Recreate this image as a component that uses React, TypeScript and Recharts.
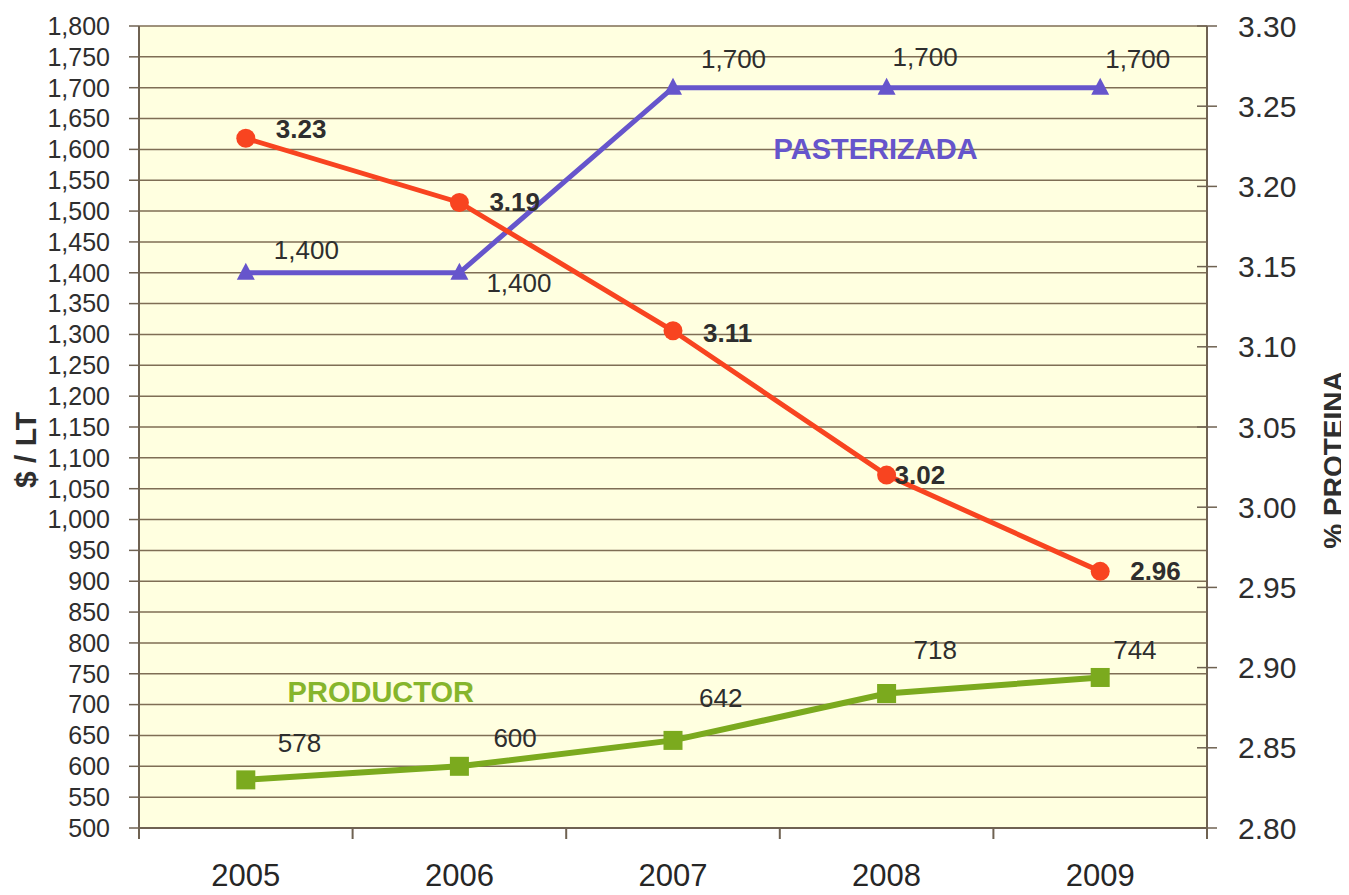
import React from 'react';
import { ComposedChart, Line, XAxis, YAxis, CartesianGrid, LabelList, ReferenceDot, Label } from 'recharts';

const years = ['2005', '2006', '2007', '2008', '2009'];
const pasterizada = [1400, 1400, 1700, 1700, 1700];
const productor = [578, 600, 642, 718, 744];
const proteina = [3.23, 3.19, 3.11, 3.02, 2.96];
const priceTicks = [500, 550, 600, 650, 700, 750, 800, 850, 900, 950, 1000, 1050, 1100, 1150, 1200, 1250, 1300, 1350, 1400, 1450, 1500, 1550, 1600, 1650, 1700, 1750, 1800];
const proteinTicks = [2.8, 2.85, 2.9, 2.95, 3.0, 3.05, 3.1, 3.15, 3.2, 3.25, 3.3];

const data = years.map((year, i) => ({
  year,
  pasterizada: pasterizada[i],
  productor: productor[i],
  proteina: proteina[i],
}));

const FONT = '"Liberation Sans", Arial, Helvetica, sans-serif';
const AXIS = '#6f6252';
const GRID = '#7f6e55';
const PURPLE = '#6655CC';
const RED = '#F84420';
const GREEN = '#7BAA1E';
const TEXT = '#2e2e2e';

// style constants
const CHART_W = 1341;
const LEFT_W = 131;
const RIGHT_W = 142;
const HALF_BAND = (CHART_W - LEFT_W - RIGHT_W) / years.length / 2;

// label offsets (style only)
const purpleDx = [28, 27, 28, 6, 5];
const purpleDy = [-23, 10, -29, -31, -29];
const greenDx = [32, 34, 26, 27, 13];
const greenDy = [-37, -28, -42, -44, -27];
const redDx = [30, 30, 30, 8, 30];
const redDy = [-9, 0, 2, 0, 0];

const makeLabel = (dxs: number[], dys: number[], fmt: (v: number) => string, weight: string) => (props: any) => {
  const { x, y, value, index } = props;
  if (x == null || y == null) return null;
  return (
    <text
      x={Number(x) + dxs[index]}
      y={Number(y) + dys[index]}
      dominantBaseline="central"
      textAnchor="start"
      fontFamily={FONT}
      fontSize={26}
      fontWeight={weight}
      fill={TEXT}
    >
      {fmt(Number(value))}
    </text>
  );
};

const fmtThousands = (v: number) => v.toLocaleString('en-US');

const TriangleDot = (props: any) => {
  const { cx, cy } = props;
  if (cx == null || cy == null) return null;
  return <polygon points={`${cx},${cy - 10} ${cx - 9},${cy + 7} ${cx + 9},${cy + 7}`} fill={PURPLE} />;
};
const SquareDot = (props: any) => {
  const { cx, cy } = props;
  if (cx == null || cy == null) return null;
  return <rect x={cx - 9.5} y={cy - 9.5} width={19} height={19} fill={GREEN} />;
};
const CircleDot = (props: any) => {
  const { cx, cy } = props;
  if (cx == null || cy == null) return null;
  return <circle cx={cx} cy={cy} r={9.5} fill={RED} />;
};

const XTick = (props: any) => {
  const { x, y, payload, index, visibleTicksCount } = props;
  const axisY = y - 36;
  const last = index === (visibleTicksCount ?? years.length) - 1;
  return (
    <g>
      <line x1={x - HALF_BAND} x2={x - HALF_BAND} y1={axisY} y2={axisY + 11} stroke={AXIS} strokeWidth={2} />
      {last && <line x1={x + HALF_BAND} x2={x + HALF_BAND} y1={axisY} y2={axisY + 11} stroke={AXIS} strokeWidth={2} />}
      <text x={x} y={y} dy="0.71em" textAnchor="middle" fontFamily={FONT} fontSize={31} fill="#262626">
        {payload.value}
      </text>
    </g>
  );
};

const RightTick = (props: any) => {
  const { x, y, payload } = props;
  const axisX = x - 31;
  return (
    <g>
      <line x1={axisX - 10} x2={axisX + 10} y1={y} y2={y} stroke={AXIS} strokeWidth={1.5} />
      <text x={x} y={y} dominantBaseline="central" textAnchor="start" fontFamily={FONT} fontSize={30} fill={TEXT}>
        {Number(payload.value).toFixed(2)}
      </text>
    </g>
  );
};

const LeftTitle = (props: any) => {
  const vb = props.viewBox;
  const x = vb.x + 17;
  const y = vb.y + vb.height / 2 + 23;
  return (
    <text x={x} y={y} transform={`rotate(-90 ${x} ${y})`} textAnchor="middle" dominantBaseline="central"
      fontFamily={FONT} fontSize={30} fontWeight="bold" fill={TEXT}>
      $ / LT
    </text>
  );
};
const RightTitle = (props: any) => {
  const vb = props.viewBox;
  const x = vb.x + 126;
  const y = vb.y + vb.height / 2 + 33;
  return (
    <text x={x} y={y} transform={`rotate(-90 ${x} ${y})`} textAnchor="middle" dominantBaseline="central"
      fontFamily={FONT} fontSize={28} fontWeight="bold" fill={TEXT}>
      % PROTEINA
    </text>
  );
};

const seriesName = (text: string, color: string, dx: number) => (props: any) => {
  const { cx, cy } = props;
  if (cx == null || cy == null) return null;
  return (
    <text x={cx + dx} y={cy} textAnchor="middle" dominantBaseline="central" fontFamily={FONT}
      fontSize={29} fontWeight="bold" fill={color}>
      {text}
    </text>
  );
};

export default function App() {
  return (
    <div style={{ marginBottom: -8 }}>
      <ComposedChart width={CHART_W} height={887} data={data} margin={{ top: 18, right: 0, bottom: 0, left: 0 }}>
        <CartesianGrid xAxisId="cat" yAxisId="left" vertical={false} horizontal fill="#FFFFE0"
          stroke={GRID} strokeWidth={1.5} fillOpacity={1} />
        <XAxis xAxisId="cat" dataKey="year" scale="band" height={67} interval={0} tickSize={0} tickMargin={36}
          axisLine={{ stroke: AXIS, strokeWidth: 2 }} tickLine={false} tick={XTick} />
        <YAxis yAxisId="left" width={LEFT_W} domain={[500, 1800]} ticks={priceTicks} interval={0}
          allowDataOverflow tickFormatter={fmtThousands} tickSize={10} tickMargin={19}
          axisLine={{ stroke: AXIS, strokeWidth: 2 }} tickLine={{ stroke: AXIS, strokeWidth: 1.5 }}
          tick={{ fontSize: 25, fill: TEXT, fontFamily: FONT }}
          label={<Label content={LeftTitle} />} />
        <YAxis yAxisId="right" orientation="right" width={RIGHT_W} domain={[2.8, 3.3]} ticks={proteinTicks}
          interval={0} allowDataOverflow tickSize={10} tickMargin={21}
          axisLine={{ stroke: AXIS, strokeWidth: 2 }} tickLine={false} tick={RightTick}
          label={<Label content={RightTitle} />} />

        <Line xAxisId="cat" yAxisId="left" type="linear" dataKey="pasterizada" stroke={PURPLE} strokeWidth={5}
          dot={TriangleDot} activeDot={false} isAnimationActive={false}>
          <LabelList dataKey="pasterizada" content={makeLabel(purpleDx, purpleDy, fmtThousands, 'normal')} />
        </Line>
        <Line xAxisId="cat" yAxisId="left" type="linear" dataKey="productor" stroke={GREEN} strokeWidth={6}
          dot={SquareDot} activeDot={false} isAnimationActive={false}>
          <LabelList dataKey="productor" content={makeLabel(greenDx, greenDy, (v) => String(v), 'normal')} />
        </Line>
        <Line xAxisId="cat" yAxisId="right" type="linear" dataKey="proteina" stroke={RED} strokeWidth={5}
          dot={CircleDot} activeDot={false} isAnimationActive={false}>
          <LabelList dataKey="proteina" content={makeLabel(redDx, redDy, (v) => v.toFixed(2), 'bold')} />
        </Line>

        <ReferenceDot xAxisId="cat" yAxisId="left" x="2008" y={1600} r={1}
          shape={seriesName('PASTERIZADA', PURPLE, -11)} />
        <ReferenceDot xAxisId="cat" yAxisId="left" x="2005" y={720} r={1}
          shape={seriesName('PRODUCTOR', '#86B52C', 135)} />
      </ComposedChart>
    </div>
  );
}
